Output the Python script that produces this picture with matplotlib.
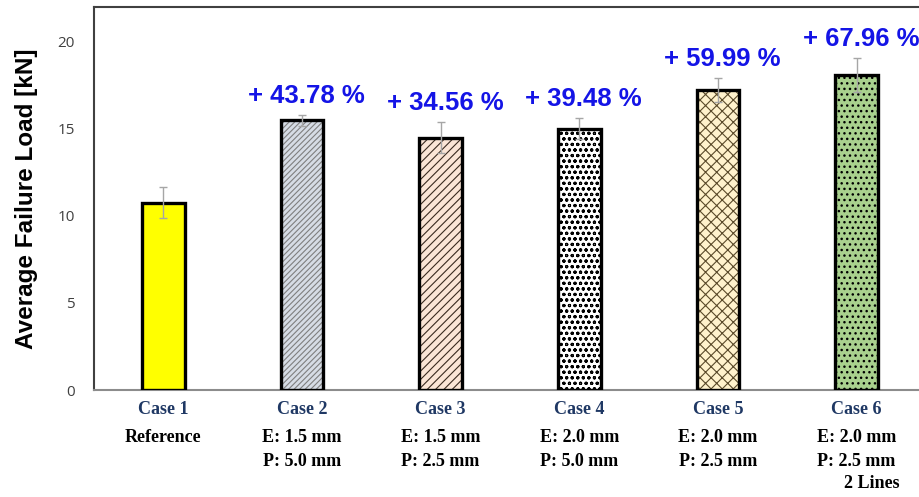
import matplotlib
matplotlib.use("Agg")
import matplotlib.pyplot as plt
import matplotlib.transforms as mtransforms

# Data
cases = ["Case 1", "Case 2", "Case 3", "Case 4", "Case 5", "Case 6"]
details = [["Reference"],
           ["E: 1.5 mm", "P: 5.0 mm"],
           ["E: 1.5 mm", "P: 2.5 mm"],
           ["E: 2.0 mm", "P: 5.0 mm"],
           ["E: 2.0 mm", "P: 2.5 mm"],
           ["E: 2.0 mm", "P: 2.5 mm", "2 Lines"]]
load_kn = [10.77, 15.49, 14.49, 15.02, 17.23, 18.09]
load_err = [0.90, 0.33, 0.90, 0.63, 0.70, 1.00]
increase_pct = [None, 43.78, 34.56, 39.48, 59.99, 67.96]
y_ticks = [0, 5, 10, 15, 20]

# Styling of each bar: (face colour, hatch, hatch colour, hatch line width)
bar_styles = [("#ffff00", "", "#000000", 0.8),
              ("#d6dce5", "//////", "#7f7f7f", 0.8),
              ("#fbe5d6", "////", "#3a2a20", 0.8),
              ("#ffffff", "ooo", "#000000", 0.8),
              ("#fff2cc", "xxx", "#5a4a2a", 0.8),
              ("#a9d18e", "...", "#000000", 1.0)]

fig = plt.figure(figsize=(9.19, 4.97), dpi=100)
ax = fig.add_axes([94 / 919, 107 / 497, 832 / 919, 383 / 497])

x = list(range(len(cases)))
width = 0.31

for xi, val, (fc, hatch, hc, hlw) in zip(x, load_kn, bar_styles):
    with plt.rc_context({"hatch.linewidth": hlw}):
        bars = ax.bar(xi, val, width=width, color=fc, edgecolor=hc,
                      hatch=hatch, linewidth=0, zorder=2)
    for b in bars:
        if hasattr(b, "set_hatch_linewidth"):
            b.set_hatch_linewidth(hlw)
    ax.bar(xi, val, width=width, fill=False, edgecolor="black",
           linewidth=2.4, zorder=3)

ax.errorbar(x, load_kn, yerr=load_err, fmt="none", ecolor="#a6a6a6",
            elinewidth=1.0, capsize=3, capthick=1.0, zorder=4)

for xi, val, err, pct in zip(x, load_kn, load_err, increase_pct):
    if pct is None:
        continue
    ax.annotate(f"+ {pct:.2f} %", xy=(xi, val + err), xytext=(3, 5),
                textcoords="offset points", ha="center", va="bottom",
                color="#1414e6", fontsize=18.5, fontweight="bold",
                family="Liberation Sans", zorder=5)

ax.set_xlim(-0.5, 5.5)
ax.set_ylim(0, 22)
ax.set_yticks(y_ticks)
ax.set_yticklabels([str(t) for t in y_ticks], fontsize=11, color="#404040",
                   family="Open Sans")
ax.tick_params(axis="y", length=0, pad=14)
ax.set_xticks([])

ax.set_ylabel("Average Failure Load [kN]", fontsize=17.5, fontweight="bold",
              family="Liberation Sans", labelpad=14)

for side in ["left", "top"]:
    ax.spines[side].set_color("#404040")
    ax.spines[side].set_linewidth(1.5)
ax.spines["right"].set_visible(False)
ax.spines["bottom"].set_color("#8c8c8c")
ax.spines["bottom"].set_linewidth(1.5)

# Category labels below the axis
trans = mtransforms.blended_transform_factory(ax.transData, fig.transFigure)
line_y = [409, 437, 461, 484]
for xi, name, lines in zip(x, cases, details):
    ax.text(xi, 1 - line_y[0] / 497, name, transform=trans, ha="center",
            va="center", fontsize=13, fontweight="bold", color="#1f3864",
            family="Liberation Serif")
    for k, line in enumerate(lines):
        dx = 0.11 if line == "2 Lines" else 0.0
        ax.text(xi + dx, 1 - line_y[k + 1] / 497, line, transform=trans,
                ha="center", va="center", fontsize=13, fontweight="bold",
                color="black", family="Liberation Serif")

fig.savefig("out.png", dpi=100)
